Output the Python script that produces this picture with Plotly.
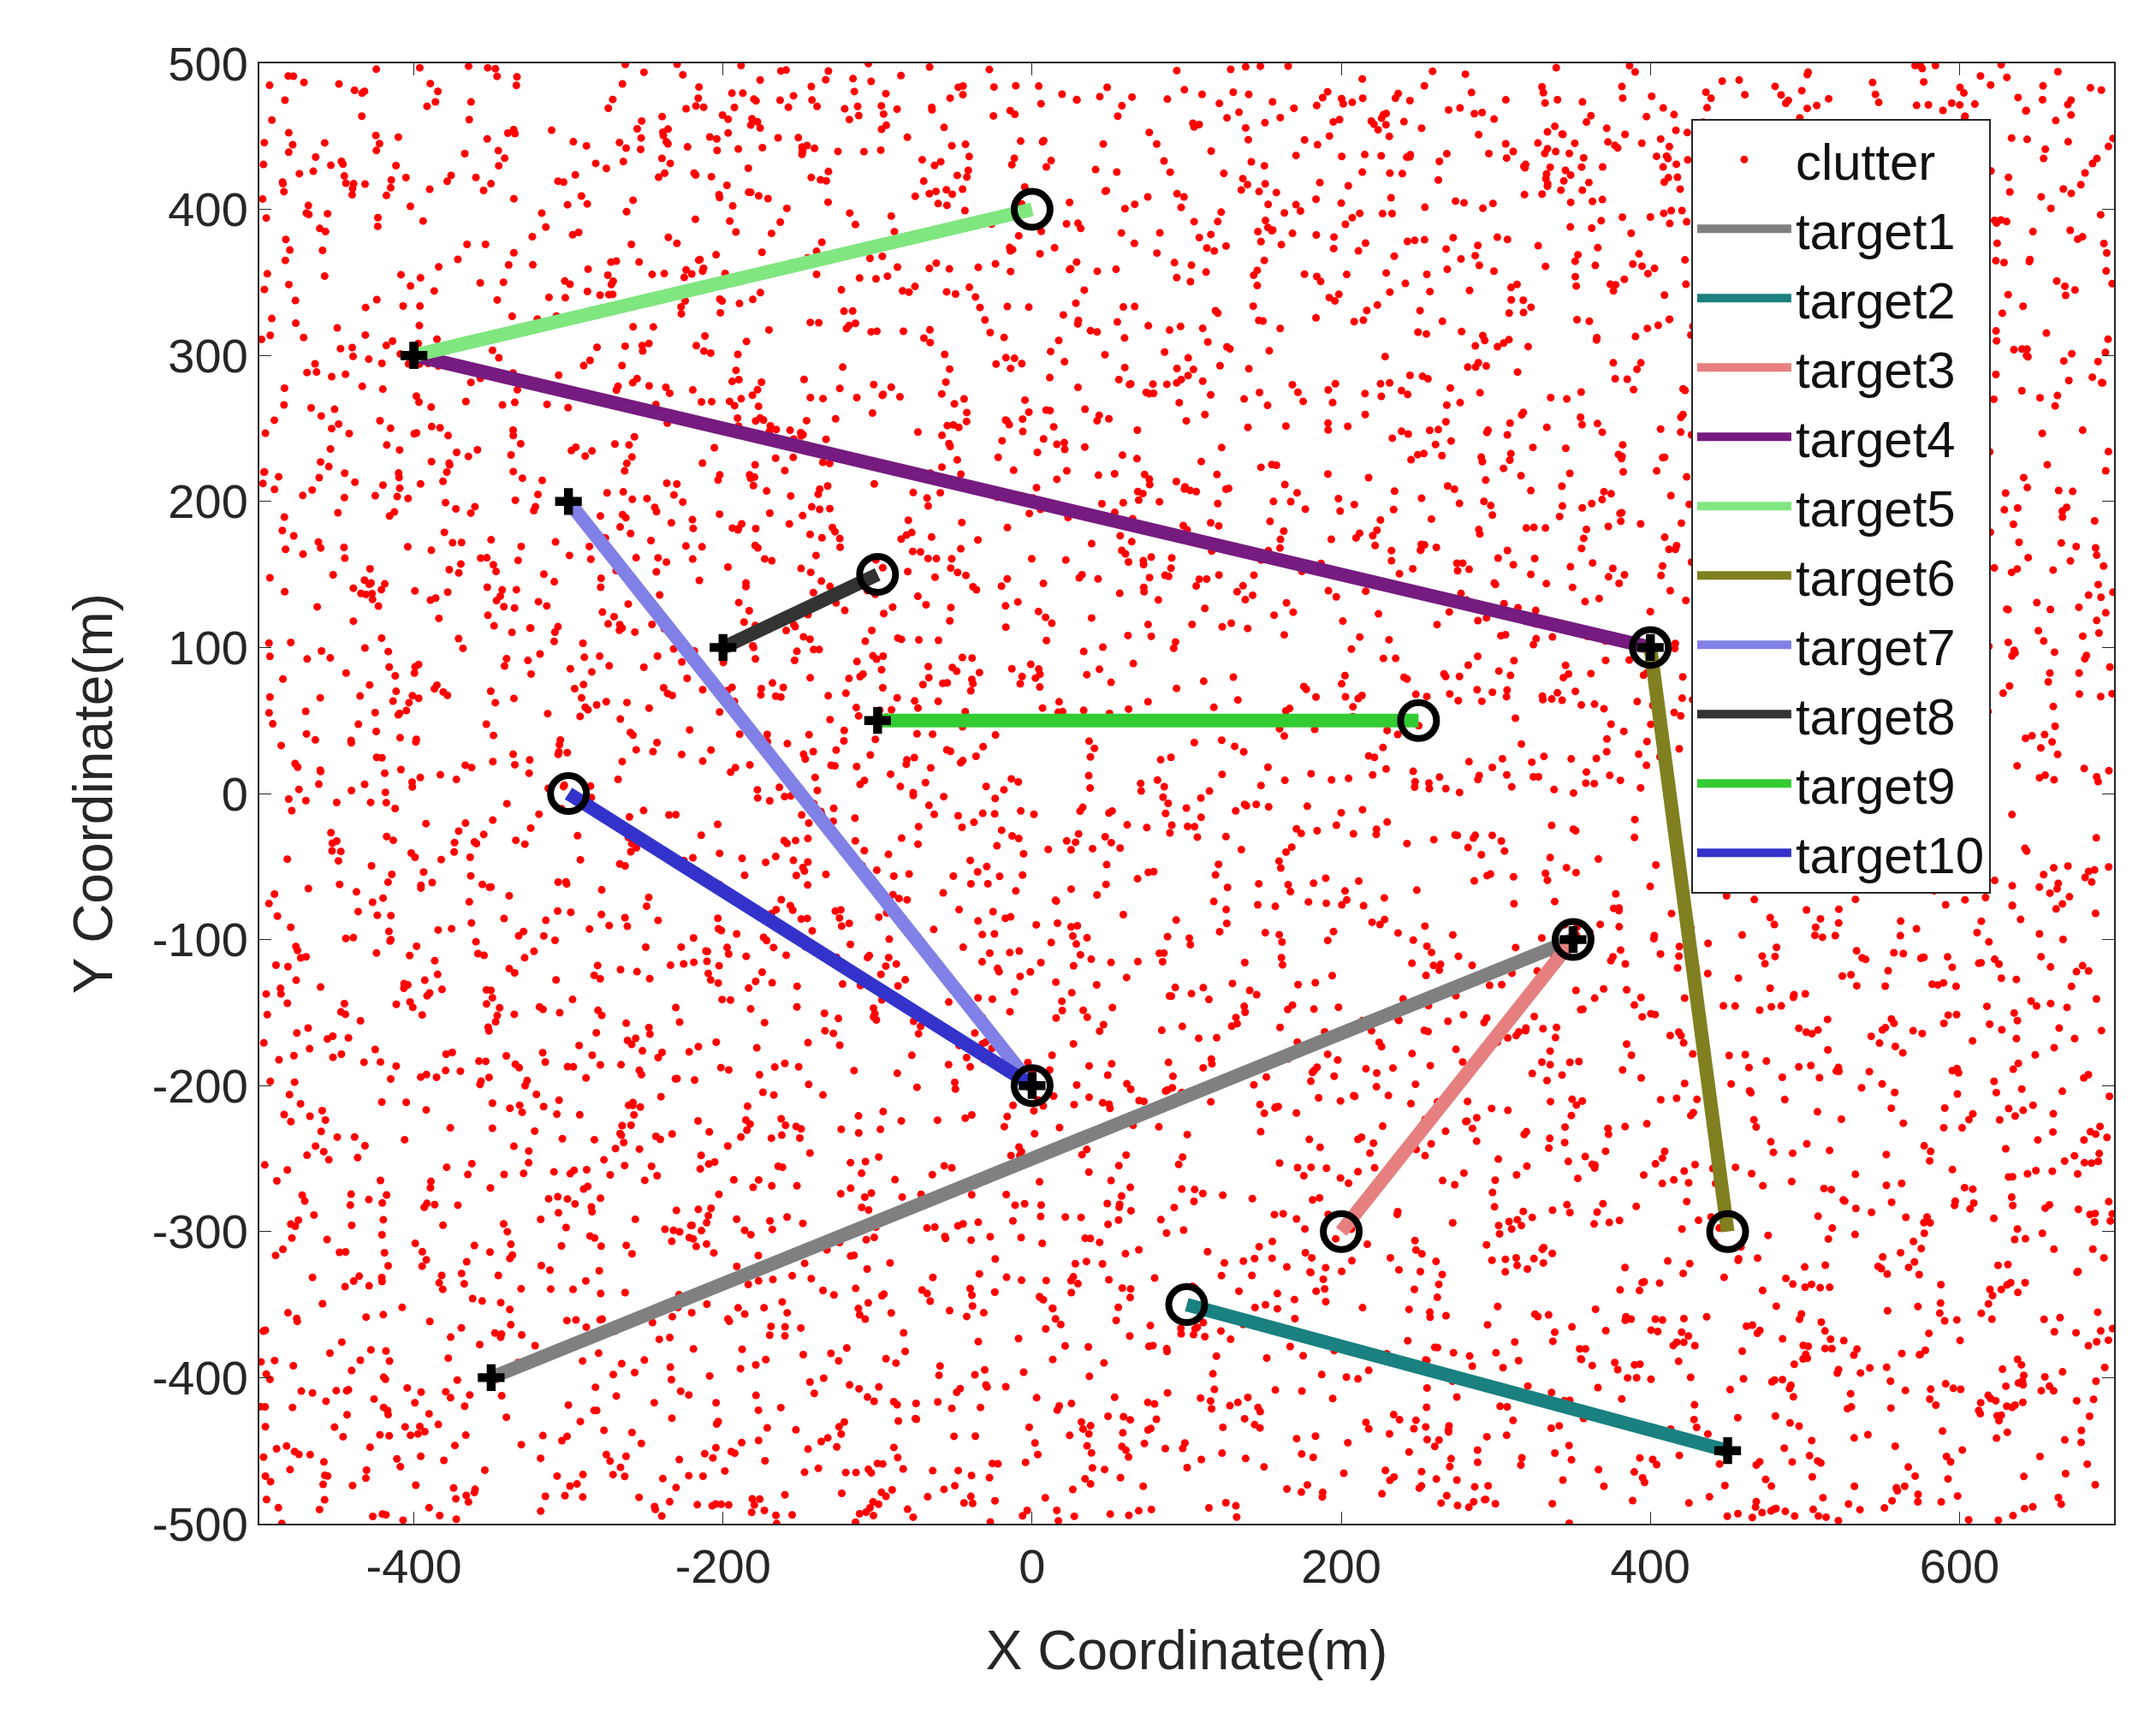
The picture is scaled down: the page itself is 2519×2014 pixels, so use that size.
import numpy as np
import plotly.graph_objects as go

# clutter: uniform background noise (thousands of points, cannot be read individually)
rng = np.random.default_rng(7)
n_clutter = 5000
clutter_x = rng.uniform(-500, 700, n_clutter)
clutter_y = rng.uniform(-500, 500, n_clutter)

names = ['target1', 'target2', 'target3', 'target4', 'target5',
         'target6', 'target7', 'target8', 'target9', 'target10']
start_x = [-350, 450, 350, -400, -400, 400, -300, -200, -100, 0]
start_y = [-400, -450, -100, 300, 300, 100, 200, 100, 50, -200]
end_x = [350, 100, 200, 400, 0, 450, 0, -100, 250, -300]
end_y = [-100, -350, -300, 100, 400, -300, -200, 150, 50, 0]
colors = ['#808080', '#1a8080', '#e68080', '#761b7f', '#80e680',
          '#808020', '#8080e6', '#333333', '#33cc33', '#3333cc']

x_ticks = [-400, -200, 0, 200, 400, 600]
y_ticks = [-500, -400, -300, -200, -100, 0, 100, 200, 300, 400, 500]

fig = go.Figure()
fig.add_trace(go.Scatter(x=clutter_x, y=clutter_y, mode='markers', name='clutter',
                         marker=dict(color='red', size=9)))
for i, nm in enumerate(names):
    fig.add_trace(go.Scatter(x=[start_x[i], end_x[i]], y=[start_y[i], end_y[i]],
                             mode='lines', name=nm,
                             line=dict(color=colors[i], width=16)))
fig.add_trace(go.Scatter(x=start_x, y=start_y, mode='markers', showlegend=False,
                         marker=dict(symbol='cross', color='black', size=26)))
fig.add_trace(go.Scatter(x=end_x, y=end_y, mode='markers', showlegend=False,
                         marker=dict(symbol='circle-open', color='black', size=42,
                                     line=dict(width=8, color='black'))))

axis = dict(showgrid=False, zeroline=False, showline=True, mirror='allticks',
            linecolor='#262626', linewidth=2, ticks='inside', ticklen=14,
            tickcolor='#262626', tickfont=dict(size=56, color='#262626'))
fig.update_layout(
    width=2519, height=2014,
    plot_bgcolor='white', paper_bgcolor='white',
    font=dict(family='Liberation Sans, Arial', color='#262626'),
    margin=dict(l=295, r=57, t=66, b=242),
    xaxis=dict(axis, range=[-500, 700], tickvals=x_ticks, ticktext=[str(v) for v in x_ticks],
               title=dict(text='X Coordinate(m)', font=dict(size=64), standoff=45)),
    yaxis=dict(axis, range=[-500, 500], tickvals=y_ticks, ticktext=[str(v) for v in y_ticks],
               title=dict(text='Y Coordinate(m)', font=dict(size=64), standoff=25)),
    legend=dict(x=0.772, y=0.962, xanchor='left', yanchor='top',
                bgcolor='white', bordercolor='#262626', borderwidth=2,
                itemwidth=110,
                font=dict(size=60, color='#111111'), tracegroupgap=0),
)
fig.write_html('out.html')
